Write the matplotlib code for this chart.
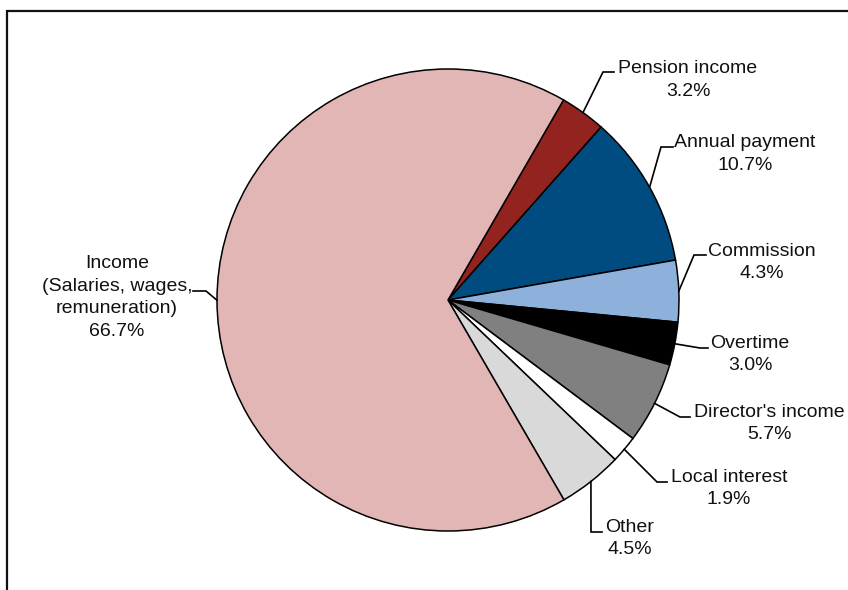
import matplotlib
matplotlib.use("Agg")
import matplotlib.pyplot as plt
import numpy as np
from matplotlib.patches import Rectangle

# ---- data ----
categories = ["Pension income", "Annual payment", "Commission", "Overtime",
              "Director's income", "Local interest", "Other",
              "Income\n(Salaries, wages,\nremuneration)"]
shares = [3.2, 10.7, 4.3, 3.0, 5.7, 1.9, 4.5, 66.7]
colors = ["#92231F", "#004C80", "#8EB1DB", "#000000",
          "#808080", "#FFFFFF", "#D9D9D9", "#E3B6B6"]

# ---- layout (pixels, from top-left of the figure) ----
W, H = 848, 590
CX, CY, R = 448, 300, 231
# (elbow_x, elbow_y, end_x, text_center_x, first_baseline_y)
label_layout = [
    (603, 72, 614, 688, 73),
    (661, 147, 673, 745, 147),
    (694, 255, 706, 762, 256),
    (700, 348, 708, 750, 348),
    (680, 417, 690, 769, 417),
    (657, 482, 667, 729, 482),
    (591, 532, 602, 630, 532),
    (206, 291, 193, 117, 268),
]
line_step = [23, 23, 22, 22, 22, 22, 22, 22.6]

plt.rcParams['font.family'] = ['Liberation Sans', 'DejaVu Sans']
fig = plt.figure(figsize=(W / 100, H / 100), dpi=100)

# frame
fig.patches.append(Rectangle((7 / W, -0.1), 1.2, (H - 11) / H + 0.1,
                             transform=fig.transFigure, fill=False,
                             edgecolor="#111111", linewidth=1.6))

ax = fig.add_axes([(CX - R) / W, (H - CY - R) / H, 2 * R / W, 2 * R / H])
ax.set_xlim(-1, 1)
ax.set_ylim(-1, 1)
ax.axis('off')

wedges, _ = ax.pie(shares, colors=colors, startangle=60, counterclock=False,
                   radius=1, center=(0, 0),
                   wedgeprops=dict(edgecolor='black', linewidth=1.1))
ax.set_xlim(-1, 1)
ax.set_ylim(-1, 1)


def p2d(px, py):
    return (px - CX) / R, (CY - py) / R


for w, cat, val, lay, step in zip(wedges, categories, shares, label_layout, line_step):
    ang = np.deg2rad((w.theta1 + w.theta2) / 2)
    sx, sy = np.cos(ang), np.sin(ang)
    ex, ey, endx, tcx, by = lay
    e = p2d(ex, ey)
    en = p2d(endx, ey)
    ax.plot([sx, e[0], en[0]], [sy, e[1], en[1]], color='black', lw=1.2,
            clip_on=False, solid_joinstyle='miter')
    lines = cat.split("\n") + [f"{val:.1f}%"]
    for i, t in enumerate(lines):
        tx, ty = p2d(tcx, by + i * step)
        ax.text(tx, ty, t, ha='center', va='baseline', fontsize=14,
                color='#111111')

fig.savefig("out.png", dpi=100)
